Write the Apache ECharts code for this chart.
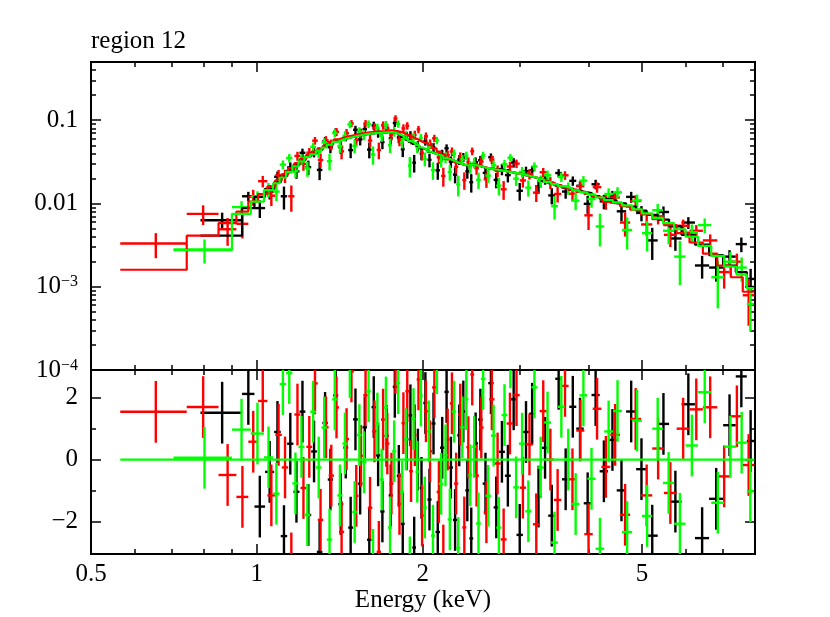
<!DOCTYPE html>
<html>
<head>
<meta charset="utf-8">
<title>region 12</title>
<script src="https://cdn.jsdelivr.net/npm/echarts@6/dist/echarts.min.js"></script>
<style>
  html, body { margin: 0; padding: 0; background: #fff; }
  #chart { width: 830px; height: 617px; }
</style>
</head>
<body>
<div id="chart"></div>
<script>
// spectra: bins given by edges (keV), rates / errors / model in 1e-3 counts s^-1 keV^-1
var blackEdges = [0.79, 0.94, 0.99, 1.035, 1.075, 1.105, 1.135, 1.165, 1.195, 1.225, 1.255, 1.285, 1.315, 1.345, 1.375, 1.405, 1.435, 1.465, 1.495, 1.525,
  1.555, 1.585, 1.615, 1.645, 1.675, 1.705, 1.735, 1.765, 1.795, 1.825, 1.855, 1.885, 1.915, 1.945, 1.975, 2.005, 2.04, 2.075, 2.11, 2.15,
  2.19, 2.23, 2.27, 2.31, 2.35, 2.39, 2.43, 2.47, 2.52, 2.57, 2.63, 2.69, 2.75, 2.82, 2.89, 2.96, 3.04, 3.12, 3.20, 3.29,
  3.38, 3.48, 3.58, 3.69, 3.80, 3.92, 4.05, 4.19, 4.34, 4.50, 4.68, 4.88, 5.10, 5.34, 5.60, 5.90, 6.24, 6.62, 7.02, 7.40, 7.75, 8.00];
var blackRate = [6.3, 12.2, 8.8, 13.9, 20.9, 12.2, 27.1, 24.3, 40.6, 27.3, 41.5, 25.3, 56.0, 47.3, 72.1, 47.3, 64.3, 43.7, 76.7, 58.9,
  77.8, 44.3, 86.3, 71.3, 54.6, 79.6, 60.5, 92.6, 62.1, 44.8, 64.4, 66.1, 30.9, 49.0, 39.8, 55.9, 33.4, 47.0, 25.0, 38.6,
  46.0, 31.7, 22.2, 33.6, 35.8, 24.3, 18.0, 31.3, 33.0, 23.3, 35.9, 19.2, 25.8, 21.9, 31.0, 14.2, 24.4, 25.1, 16.1, 19.7,
  12.5, 23.2, 13.9, 18.7, 16.3, 9.9, 17.0, 10.6, 12.1, 8.05, 12.0, 7.7, 3.6, 7.9, 3.8, 5.9, 1.8, 1.7, 2.3, 3.25, 1.24];
var blackErr = [1.45, 1.6, 2.1, 2.75, 3.25, 3.75, 4.1, 4.5, 4.9, 5.4, 5.75, 6.25, 6.75, 7.25, 7.75, 8.1, 8.5, 8.75, 9.0, 9.1,
  9.4, 9.5, 9.6, 9.6, 9.75, 9.9, 9.9, 9.6, 9.25, 8.75, 8.25, 7.75, 7.4, 7.0, 6.75, 6.5, 6.25, 6.0, 5.75, 5.5,
  5.25, 5.0, 4.75, 4.6, 4.5, 4.5, 4.5, 4.4, 4.25, 4.1, 4.0, 4.0, 4.0, 4.0, 4.0, 3.4, 3.25, 3.1, 3.0, 2.9,
  2.75, 2.6, 2.5, 2.4, 2.4, 2.4, 2.25, 2.1, 2.05, 1.95, 1.8, 1.6, 1.5, 1.3, 1.1, 0.95, 0.55, 0.55, 0.45, 0.65, 0.4];
var blackModel = [4.1, 8.8, 12, 15, 18, 21.5, 25, 29, 33, 37, 40, 44, 48, 52, 56, 59, 61, 63, 65, 66,
  68, 69, 70, 70, 71, 72, 72, 70, 67, 63, 59, 55, 52, 49, 46, 44, 41.5, 40, 38.5, 36.5,
  34.5, 33, 31.5, 30, 28.8, 28.8, 29.5, 29, 27.5, 26.5, 26, 25.4, 24.8, 24, 23.2, 22.5, 21.5, 20.5, 19.7, 18.6,
  17.5, 16.4, 15.5, 14.6, 13.9, 13.3, 12.3, 11.4, 10.8, 10.0, 9.2, 8.2, 7.3, 6.4, 5.3, 4.2, 3.2, 2.4, 1.8, 1.5, 1.0];

var redEdges = [0.565, 0.746, 0.852, 0.918, 0.965, 1.005, 1.045, 1.08, 1.11, 1.14, 1.17, 1.20, 1.23, 1.26, 1.29, 1.32, 1.35, 1.38, 1.41, 1.44,
  1.47, 1.50, 1.53, 1.56, 1.59, 1.62, 1.65, 1.68, 1.71, 1.74, 1.77, 1.80, 1.83, 1.86, 1.89, 1.92, 1.95, 1.98, 2.01, 2.045,
  2.08, 2.12, 2.16, 2.20, 2.24, 2.28, 2.32, 2.36, 2.40, 2.44, 2.48, 2.53, 2.58, 2.64, 2.70, 2.77, 2.84, 2.92, 3.00, 3.08,
  3.17, 3.26, 3.36, 3.46, 3.57, 3.68, 3.80, 3.93, 4.07, 4.22, 4.38, 4.56, 4.76, 4.98, 5.22, 5.48, 5.78, 6.10, 6.45, 6.85, 7.25, 7.62, 8.00];
var redRate = [3.3, 7.5, 4.9, 5.7, 12.0, 18.5, 12.4, 21.8, 21.5, 12.2, 37.2, 29.8, 40.8, 56.8, 33.3, 57.3, 51.1, 72.5, 42.3, 69.7,
  91.4, 57.3, 70.1, 90.8, 57.0, 81.9, 43.9, 86.8, 80.2, 67.2, 104.9, 58.2, 79.9, 85.7, 59.8, 66.5, 77.5, 40.4, 64.1, 51.8,
  60.6, 35.8, 21.4, 37.9, 42.1, 27.5, 36.5, 19.1, 31.3, 42.4, 26.5, 31.9, 19.5, 33.6, 24.7, 14.8, 27.8, 30.1, 18.9, 22.6,
  13.5, 23.7, 17.8, 13.0, 21.8, 13.1, 16.1, 7.2, 15.7, 10.5, 11.8, 5.9, 10.7, 5.6, 7.0, 4.2, 5.4, 4.7, 3.6, 1.5, 2.0, 0.79];
var redErr = [1.1, 2.0, 1.8, 1.9, 2.6, 2.9, 3.1, 3.5, 3.9, 4.25, 4.6, 5.1, 5.6, 6.0, 6.5, 7.0, 7.5, 8.0, 8.4, 8.6,
  8.9, 9.1, 9.25, 9.5, 9.6, 9.75, 9.9, 9.9, 10.0, 10.0, 9.9, 9.6, 9.25, 8.9, 8.5, 8.25, 7.9, 7.5, 7.1, 6.75,
  6.25, 5.9, 5.5, 5.25, 5.0, 4.75, 4.6, 4.5, 4.5, 4.5, 4.4, 4.25, 4.1, 4.0, 3.9, 3.75, 3.6, 3.5, 3.4, 3.25,
  3.1, 3.0, 2.9, 2.75, 2.6, 2.5, 2.45, 2.4, 2.25, 2.1, 2.0, 1.9, 1.75, 1.55, 1.4, 1.2, 1.0, 0.8, 0.65, 0.55, 0.5, 0.45];
var redModel = [1.6, 4.1, 5.8, 8.0, 10.5, 13, 16, 19, 22.5, 26.5, 30.5, 34.5, 38.5, 42, 46, 50, 55, 59, 62, 64,
  66, 68, 69, 71, 72, 73, 73.5, 74, 75, 75, 74, 72, 69, 66, 63, 60, 57, 54, 53, 50,
  46, 42, 38.5, 34.5, 33, 31.2, 29.8, 29, 29.5, 30, 28.8, 27.5, 26.5, 25.8, 25.2, 24.5, 23.6, 22.8, 22, 21,
  20, 19, 17.8, 16.6, 15.6, 14.7, 13.8, 13, 12, 11, 10.2, 9.3, 8.4, 7.4, 6.5, 5.5, 4.4, 3.4, 2.5, 1.8, 1.3, 0.87];

var greenEdges = [0.706, 0.901, 0.975, 1.03, 1.07, 1.10, 1.13, 1.16, 1.19, 1.22, 1.25, 1.28, 1.31, 1.34, 1.37, 1.40, 1.43, 1.46, 1.49, 1.52,
  1.55, 1.58, 1.61, 1.64, 1.67, 1.70, 1.73, 1.76, 1.79, 1.82, 1.85, 1.88, 1.91, 1.94, 1.97, 2.00, 2.035, 2.07, 2.105, 2.14,
  2.18, 2.22, 2.26, 2.30, 2.34, 2.38, 2.42, 2.46, 2.50, 2.55, 2.60, 2.66, 2.72, 2.78, 2.85, 2.92, 2.99, 3.07, 3.15, 3.23,
  3.32, 3.42, 3.52, 3.62, 3.73, 3.85, 3.98, 4.12, 4.27, 4.43, 4.60, 4.80, 5.00, 5.22, 5.46, 5.72, 6.00, 6.32, 6.68, 7.05, 7.42, 7.75, 7.98];
var greenRate = [2.8, 9.05, 12.1, 14.7, 13.9, 29.3, 35.2, 24.6, 34.0, 26.3, 47.9, 41.4, 54.0, 32.2, 70.1, 48.6, 64.9, 88.7, 49.2, 73.2,
  66.7, 90.0, 38.8, 81.2, 64.7, 88.2, 50.2, 73.1, 90.4, 54.7, 65.5, 28.4, 62.8, 47.2, 61.3, 34.4, 47.7, 25.2, 57.2, 32.6,
  35.7, 23.8, 39.6, 16.9, 33.9, 37.4, 27.2, 30.8, 19.2, 37.7, 21.6, 28.7, 16.4, 29.7, 35.5, 19.8, 24.0, 15.5, 27.9, 18.6,
  21.8, 9.3, 20.8, 15.3, 10.8, 18.8, 11.3, 5.3, 13.0, 13.6, 4.8, 10.9, 4.4, 8.3, 4.7, 2.3, 4.5, 5.5, 1.3, 2.0, 1.7, 0.62];
var greenErr = [0.9, 1.6, 1.9, 2.9, 3.25, 3.6, 4.0, 4.4, 4.9, 5.4, 5.75, 6.25, 6.75, 7.25, 7.75, 8.1, 8.5, 8.75, 9.0, 9.1,
  9.4, 9.5, 9.6, 9.6, 9.75, 9.9, 9.9, 9.75, 9.25, 8.9, 8.4, 7.9, 7.5, 7.1, 6.9, 6.5, 6.25, 6.0, 5.9, 5.6,
  5.25, 5.0, 4.9, 4.75, 4.5, 4.5, 4.5, 4.4, 4.25, 4.1, 4.0, 4.0, 3.9, 3.75, 3.6, 3.55, 3.5, 3.4, 3.25, 3.1,
  3.0, 2.9, 2.75, 2.6, 2.5, 2.5, 2.4, 2.25, 2.2, 2.1, 2.0, 1.9, 1.75, 1.6, 1.45, 1.25, 1.1, 1.1, 0.75, 0.6, 0.55, 0.33];
var greenModel = [2.75, 7.5, 10.5, 14.5, 17.5, 20.5, 24, 28, 32, 36, 39, 43, 47, 51, 55, 58, 60.5, 62.5, 64.5, 66,
  67.5, 69, 70, 70, 71, 71.5, 72, 70.5, 67.5, 64, 60, 56, 53, 50, 47, 44.5, 42, 40, 38.8, 37,
  35, 33.5, 32, 30.5, 29.2, 28.6, 29.5, 29, 28, 27, 26.3, 25.6, 25, 24.3, 23.6, 23, 22.2, 21.2, 20.3, 19.4,
  18.2, 17.1, 16.1, 15.3, 14.4, 13.6, 12.8, 11.8, 11, 10.3, 9.5, 8.5, 7.6, 6.7, 5.8, 4.9, 4.0, 3.1, 2.35, 1.75, 1.4, 0.96];

// axis ticks
var xTickValues = [0.5, 1, 2, 5];
var xTickLabels = ['0.5', '1', '2', '5'];
var xMinorTicks = [0.6, 0.7, 0.8, 0.9, 3, 4, 6, 7];
var yTickValues = [0.1, 0.01, 0.001, 0.0001];
var yTickLabels = ['0.1', '0.01', '10{s|\u22123}', '10{s|\u22124}'];
var yMinorTicks = [0.0002, 0.0003, 0.0004, 0.0005, 0.0006, 0.0007, 0.0008, 0.0009,
  0.002, 0.003, 0.004, 0.005, 0.006, 0.007, 0.008, 0.009,
  0.02, 0.03, 0.04, 0.05, 0.06, 0.07, 0.08, 0.09, 0.2, 0.3, 0.4];
var resTickValues = [-2, 0, 2];
var resTickLabels = ['\u22122', '0', '2'];
var resMinorTicks = [-1, 1];

var E_MIN = 0.5, E_MAX = 8.02;
var Y_MIN = 1e-4, Y_MAX = 0.5;
var R_MIN = -3.06, R_MAX = 2.9;
var FONT = '"Liberation Serif", "DejaVu Serif", serif';
var FS = 25;
var lg = Math.log10;

function pickLabel(vals, labels, v, toAxis) {
  for (var i = 0; i < vals.length; i++) {
    if (Math.abs(toAxis(vals[i]) - v) < 1e-6) return labels[i];
  }
  return '';
}
var ident = function (v) { return v; };

// major + minor axes on both sides of one grid
function axisSet(grid, posA, posB, min, max, major, minor, toAxis, labelFn, showLabel, isX) {
  var out = [];
  [posA, posB].forEach(function (pos, k) {
    [true, false].forEach(function (isMajor) {
      out.push({
        gridIndex: grid, type: 'value', min: min, max: max, position: pos,
        axisLine: { show: true, onZero: false, lineStyle: { color: '#000', width: 2 } },
        splitLine: { show: false },
        axisTick: {
          show: true, inside: true, length: isMajor ? 10 : 5,
          customValues: (isMajor ? major : minor).map(toAxis),
          lineStyle: { color: '#000', width: 1.5 }
        },
        axisLabel: {
          show: showLabel && k === 0 && isMajor,
          customValues: major.map(toAxis),
          formatter: labelFn,
          color: '#000', fontFamily: FONT, fontSize: FS,
          margin: isX ? 8 : 13,
          rich: { s: { fontFamily: FONT, fontSize: 16, verticalAlign: 'top', color: '#000' } }
        }
      });
    });
  });
  return out;
}

var xFmt = function (v) { return pickLabel(xTickValues, xTickLabels, v, lg); };
var yFmt = function (v) { return pickLabel(yTickValues, yTickLabels, v, lg); };
var rFmt = function (v) { return pickLabel(resTickValues, resTickLabels, v, ident); };

var xAxes = []
  .concat(axisSet(0, 'bottom', 'top', lg(E_MIN), lg(E_MAX), xTickValues, xMinorTicks, lg, xFmt, false, true))
  .concat(axisSet(1, 'bottom', 'top', lg(E_MIN), lg(E_MAX), xTickValues, xMinorTicks, lg, xFmt, true, true));
xAxes[4].name = 'Energy (keV)';
xAxes[4].nameLocation = 'middle';
xAxes[4].nameGap = 29;
xAxes[4].nameTextStyle = { color: '#000', fontFamily: FONT, fontSize: FS };

var yAxes = []
  .concat(axisSet(0, 'left', 'right', lg(Y_MIN), lg(Y_MAX), yTickValues, yMinorTicks, lg, yFmt, true, false))
  .concat(axisSet(1, 'left', 'right', R_MIN, R_MAX, resTickValues, resMinorTicks, ident, rFmt, true, false));

function crossItem(params, api) {
  var pL = api.coord([api.value(0), api.value(3)]);
  var pR = api.coord([api.value(1), api.value(3)]);
  var pB = api.coord([api.value(2), api.value(4)]);
  var pT = api.coord([api.value(2), api.value(5)]);
  var st = { stroke: api.visual('color'), lineWidth: 2.4 };
  return {
    type: 'group',
    children: [
      { type: 'line', shape: { x1: pL[0], y1: pL[1], x2: pR[0], y2: pR[1] }, style: st },
      { type: 'line', shape: { x1: pB[0], y1: pB[1], x2: pT[0], y2: pT[1] }, style: st }
    ]
  };
}

function buildSeries(edges, rate, err, model, color) {
  var n = Math.min(edges.length - 1, rate.length, err.length, model.length);
  var spec = [], steps = [], resid = [];
  for (var i = 0; i < n; i++) {
    var lo = edges[i], hi = edges[i + 1], mid = (lo + hi) / 2;
    var d = rate[i] * 1e-3, e = err[i] * 1e-3, m = model[i] * 1e-3;
    var dn = d - e > 1e-6 ? d - e : 1e-6;
    spec.push([lg(lo), lg(hi), lg(mid), lg(d), lg(dn), lg(d + e)]);
    steps.push([lg(lo), lg(m)], [lg(hi), lg(m)]);
    var r = (d - m) / e;
    resid.push([lg(lo), lg(hi), lg(mid), r, r - 1, r + 1]);
  }
  return [
    { type: 'custom', xAxisIndex: 0, yAxisIndex: 0, clip: true, silent: true, renderItem: crossItem,
      itemStyle: { color: color }, data: spec, z: 2 },
    { type: 'line', xAxisIndex: 0, yAxisIndex: 0, data: steps, showSymbol: false, symbol: 'none', silent: true,
      lineStyle: { color: color, width: 2.2 }, z: 2 },
    { type: 'custom', xAxisIndex: 4, yAxisIndex: 4, clip: true, silent: true, renderItem: crossItem,
      itemStyle: { color: color }, data: resid, z: 2 }
  ];
}

var series = []
  .concat(buildSeries(blackEdges, blackRate, blackErr, blackModel, '#000000'))
  .concat(buildSeries(redEdges, redRate, redErr, redModel, '#ff0000'))
  .concat(buildSeries(greenEdges, greenRate, greenErr, greenModel, '#00ff00'));

var zeroFrom = Math.min(blackEdges[0], redEdges[0], greenEdges[0]);
var zeroTo = Math.max(blackEdges[blackEdges.length - 1], redEdges[redEdges.length - 1], greenEdges[greenEdges.length - 1]);
series.push({ type: 'line', xAxisIndex: 4, yAxisIndex: 4, showSymbol: false, symbol: 'none', silent: true,
  data: [[lg(zeroFrom), 0], [lg(zeroTo), 0]], lineStyle: { color: '#00ff00', width: 2.2 }, z: 3 });

var chart = echarts.init(document.getElementById('chart'), null, { renderer: 'canvas' });
chart.setOption({
  animation: false,
  backgroundColor: '#fff',
  title: {
    text: 'region 12', left: 91, top: 29, padding: 0,
    textStyle: { color: '#000', fontFamily: FONT, fontSize: FS, fontWeight: 'normal' }
  },
  grid: [
    { left: 91, top: 62, width: 664, height: 308 },
    { left: 91, top: 370, width: 664, height: 184 }
  ],
  xAxis: xAxes,
  yAxis: yAxes,
  series: series
});
</script>
</body>
</html>
